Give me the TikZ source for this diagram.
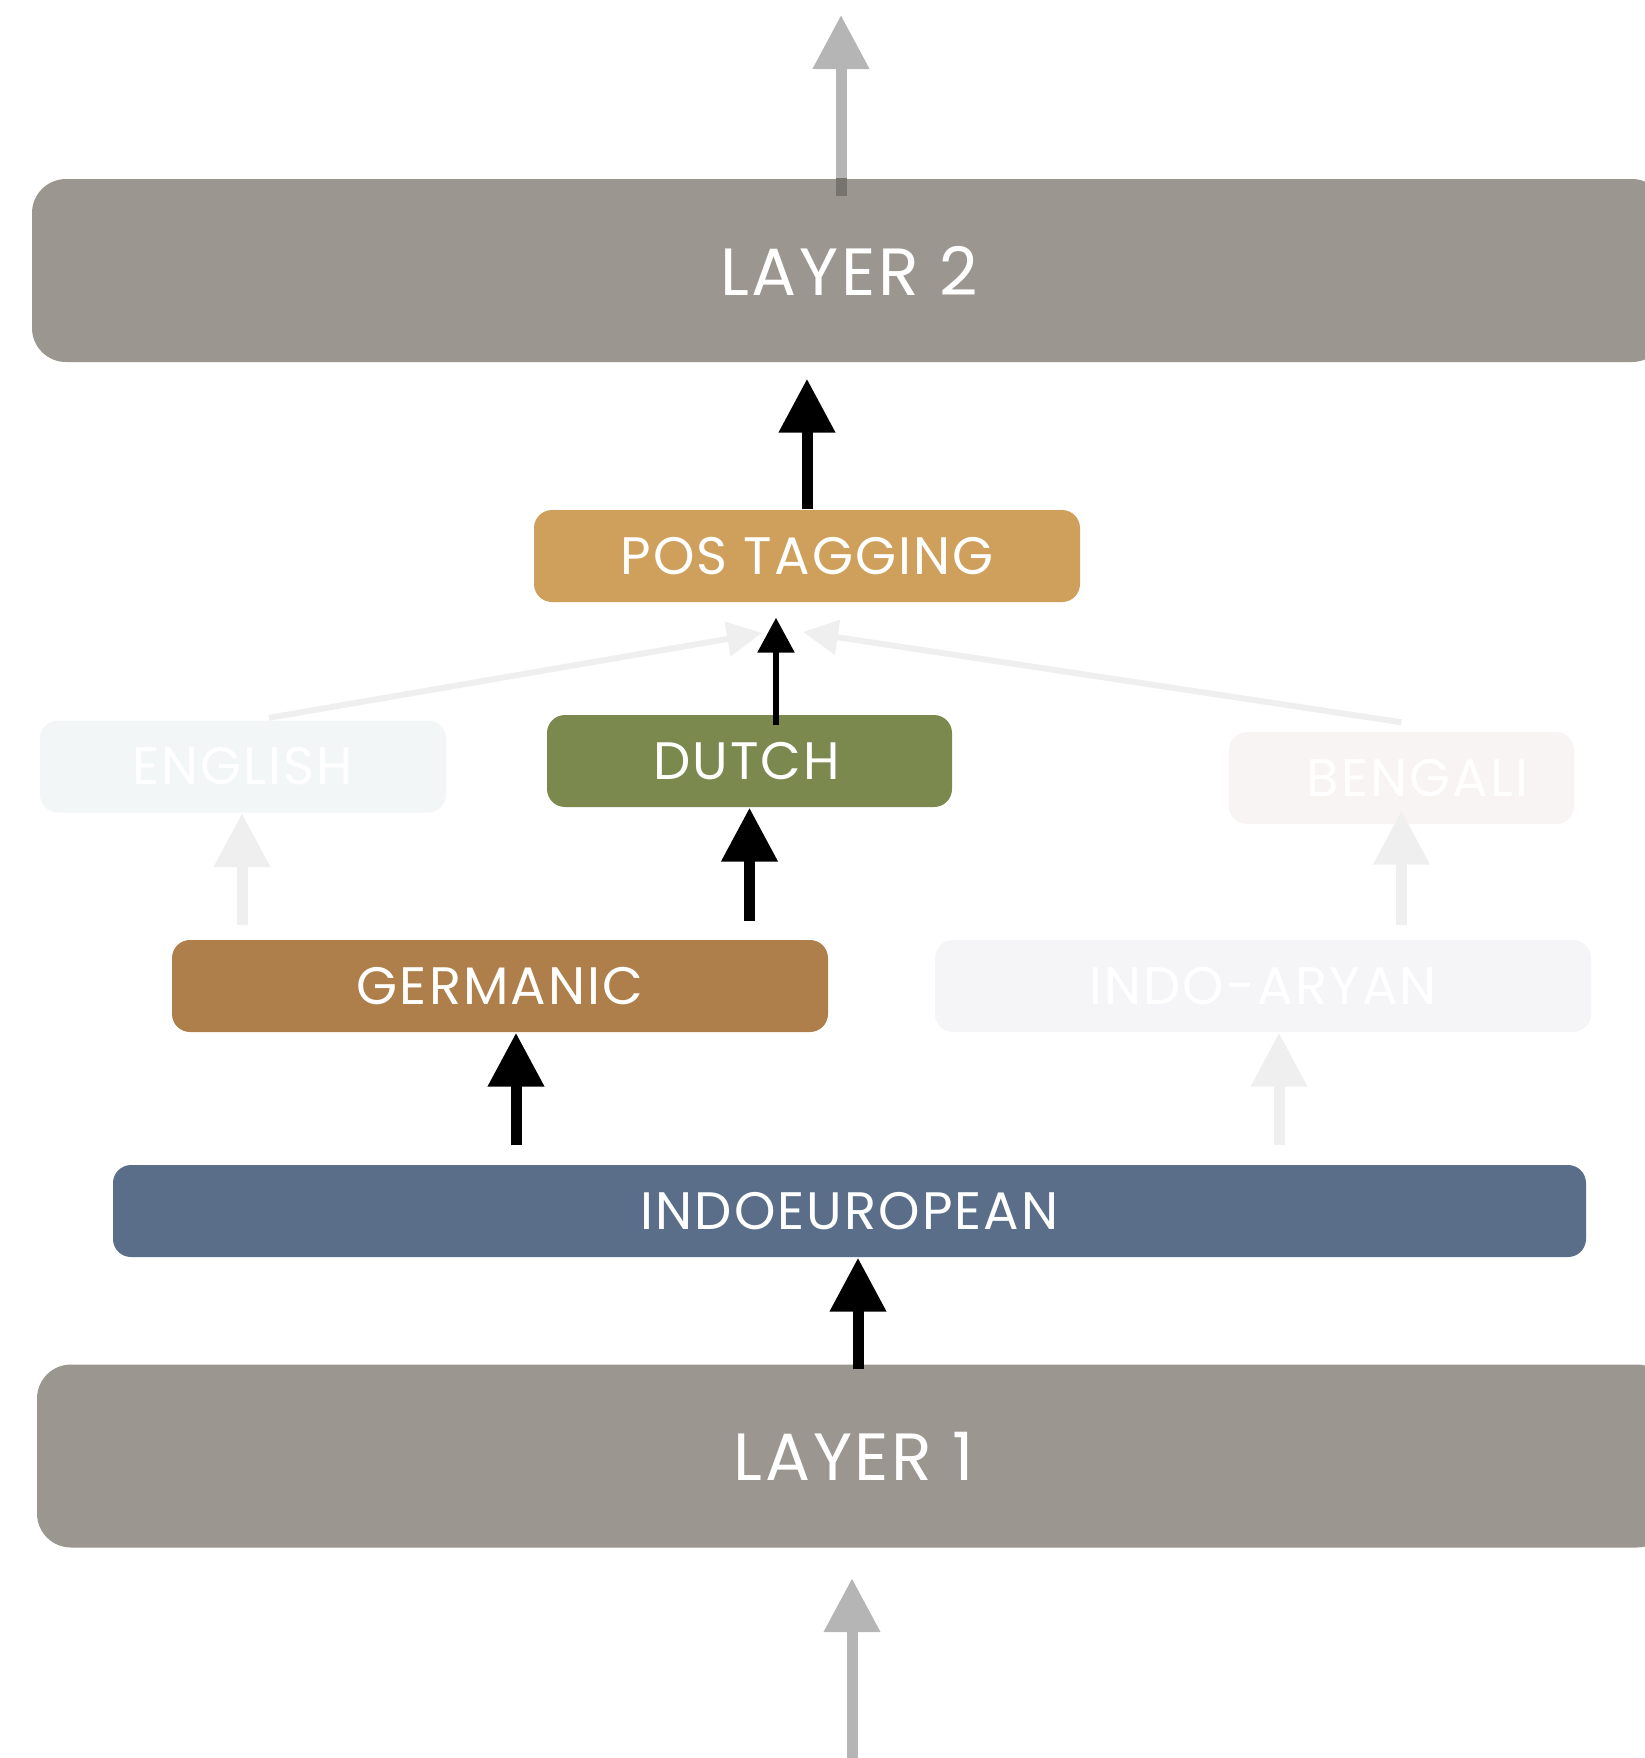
\documentclass[tikz,border=0pt]{standalone}
\usepackage{fontspec}
\setmainfont{Poppins}[LetterSpace=4]
\usetikzlibrary{arrows.meta}

\definecolor{layergray}{HTML}{9B9790}
\definecolor{posorange}{HTML}{CF9F5C}
\definecolor{dutchgreen}{HTML}{7B894F}
\definecolor{germbrown}{HTML}{AE7F4A}
\definecolor{ieblue}{HTML}{5A6E8A}
\definecolor{faintblue}{HTML}{F3F6F7}
\definecolor{faintrose}{HTML}{F7F4F3}
\definecolor{faintgray}{HTML}{F5F5F7}
\definecolor{fainttip}{HTML}{EFEFEF}
\definecolor{iogray}{HTML}{B5B5B5}
\definecolor{stubgray}{HTML}{77736E}

\begin{document}
\begin{tikzpicture}
  [x=0.1mm,y=-0.1mm,
   every node/.style={rounded corners=1.8mm,text=white,inner sep=0pt,
     minimum height=9.2mm,font=\fontsize{15}{18}\selectfont},
   layer/.style={fill=layergray,rounded corners=3.4mm,minimum width=163.4mm,
     minimum height=18.3mm,font=\fontsize{19}{23}\selectfont},
   big/.style={line width=1.1mm,-{Triangle[width=5.4mm,length=5.4mm]}},
   thin/.style={line width=0.6mm,-{Triangle[width=3.6mm,length=3.5mm]}},
   faint/.style={big,draw=fainttip},
   faintline/.style={line width=0.6mm,draw=fainttip,-{Triangle[width=3.4mm,length=3.5mm]}},
   io/.style={big,draw=iogray}]
  \useasboundingbox (0,0) rectangle (1645,1758);

  % faint paths into pos tagging
  \node[fill=faintblue,minimum width=40.6mm] (english) at (243,766.5) {ENGLISH};
  \node[fill=faintrose,minimum width=34.5mm] (bengali) at (1401.5,778) {\hspace*{3.2mm}BENGALI};
  \draw[faintline] ([xshift=2.6mm,yshift=0.2mm]english.north) -- (762,633);
  \draw[faintline] ([yshift=0.9mm]bengali.north) -- (803,632);

  \node[layer] (l2) at (849,270.5) {LAYER 2};
  \node[fill=posorange,minimum width=54.6mm] (pos) at (807,556) {POS TAGGING};
  \node[fill=dutchgreen,minimum width=40.5mm] (dutch) at (749.5,761) {DUTCH\hspace*{0.6mm}};
  \node[fill=germbrown,minimum width=65.6mm] (germanic) at (500,986) {GERMANIC};
  \node[fill=faintgray,minimum width=65.6mm] (indoaryan) at (1263,986) {INDO-ARYAN};
  \node[fill=ieblue,minimum width=147.3mm] (ie) at (849.5,1211) {INDOEUROPEAN};
  \node[layer] (l1) at (854,1456) {LAYER 1};

  \coordinate (in) at (852,1758);
  \coordinate (out) at (841,15);

  % connectors
  \draw[io,shorten >=3mm] (in) -- (in |- l1.south);
  \draw[big,shorten <=-0.5mm] ([xshift=0.4mm]l1.north) -- ([xshift=0.4mm]l1.north |- ie.south);
  \draw[big,shorten <=1.9mm] ([xshift=1.6mm]germanic.south |- ie.north) -- ([xshift=1.6mm]germanic.south);
  \draw[faint,shorten <=1.9mm] ([xshift=1.6mm]indoaryan.south |- ie.north) -- ([xshift=1.6mm]indoaryan.south);
  \draw[big,shorten <=1.8mm] (dutch.south |- germanic.north) -- (dutch.south);
  \draw[faint,shorten <=1.4mm] ([xshift=-0.1mm]english.south |- germanic.north) -- ([xshift=-0.1mm]english.south);
  \draw[faint,shorten <=1.4mm,shorten >=-1.4mm] (bengali.south |- indoaryan.north) -- (bengali.south);
  \draw[thin,shorten <=-1.1mm,shorten >=1.5mm] ([xshift=2.65mm]dutch.north) -- ([xshift=2.65mm]dutch.north |- pos.south);
  \draw[big,shorten >=1.6mm] (pos.north) -- (pos.north |- l2.south);
  \draw[io,shorten <=-1.8mm] (out |- l2.north) -- (out);
  \draw[stubgray,line width=1.1mm] (out |- l2.north) -- ++(0,18);
\end{tikzpicture}
\end{document}
